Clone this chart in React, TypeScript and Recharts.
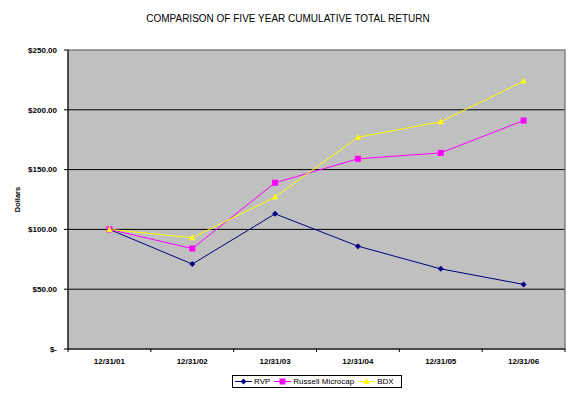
import { LineChart, Line, XAxis, YAxis, CartesianGrid, ReferenceArea } from 'recharts';

const categories = ['12/31/01', '12/31/02', '12/31/03', '12/31/04', '12/31/05', '12/31/06'];
const rvp = [100, 71, 113, 86, 67, 54];
const russell = [100, 84, 139, 159, 164, 191];
const bdx = [100, 93, 127, 177, 190, 224];
const yTicks = [0, 50, 100, 150, 200, 250];

const FONT = '"Liberation Sans", Arial, sans-serif';

const data = categories.map((date, i) => ({ date, rvp: rvp[i], russell: russell[i], bdx: bdx[i] }));

type Shape = 'diamond' | 'square' | 'triangle';

const series: Array<{ key: string; name: string; color: string; shape: Shape }> = [
  { key: 'rvp', name: 'RVP', color: '#000080', shape: 'diamond' },
  { key: 'russell', name: 'Russell Microcap', color: '#FF00FF', shape: 'square' },
  { key: 'bdx', name: 'BDX', color: '#FFFF00', shape: 'triangle' },
];

function Marker({ cx, cy, shape, color }: { cx: number; cy: number; shape: Shape; color: string }) {
  if (cx == null || cy == null) return null;
  if (shape === 'diamond') {
    return <path d={`M${cx},${cy - 3}L${cx + 3},${cy}L${cx},${cy + 3}L${cx - 3},${cy}Z`} fill={color} />;
  }
  if (shape === 'square') {
    return <rect x={cx - 3} y={cy - 3} width={6} height={6} fill={color} />;
  }
  return <path d={`M${cx},${cy - 3.5}L${cx + 3},${cy + 2.5}L${cx - 3},${cy + 2.5}Z`} fill={color} />;
}

function XTick(props: any) {
  const { x, y, payload, index } = props;
  const half = payload && payload.offset ? payload.offset : 41.4;
  const last = index === categories.length - 1;
  return (
    <g>
      <line x1={x - half} y1={y} x2={x - half} y2={y + 3} stroke="#000" />
      {last && <line x1={x + half} y1={y} x2={x + half} y2={y + 3} stroke="#000" />}
      <text x={x} y={y + 15} textAnchor="middle" fontSize={8} fontWeight="bold" fontFamily={FONT} fill="#000">
        {payload.value}
      </text>
    </g>
  );
}

function DollarsLabel(props: any) {
  const vb = props.viewBox || { x: 0, y: 50, width: 68, height: 299 };
  const cx = vb.x + 17;
  const cy = vb.y + vb.height / 2;
  return (
    <text
      x={cx}
      y={cy}
      transform={`rotate(-90 ${cx} ${cy})`}
      textAnchor="middle"
      dominantBaseline="central"
      fontSize={7.5}
      fontWeight="bold"
      fontFamily={FONT}
      fill="#000"
    >
      Dollars
    </text>
  );
}

export default function App() {
  return (
    <div style={{ position: 'absolute', left: 0, top: 0, width: 576, height: 394, background: '#fff', fontFamily: FONT }}>
      <div
        style={{
          position: 'absolute',
          left: 0,
          width: 576,
          top: 13,
          textAlign: 'center',
          fontSize: 10,
          color: '#000',
          paddingLeft: 0,
        }}
      >
        <span style={{ position: 'relative', left: 0 }}>COMPARISON OF FIVE YEAR CUMULATIVE TOTAL RETURN</span>
      </div>
      <LineChart width={576} height={394} data={data} margin={{ top: 50, right: 11, bottom: 0, left: 0 }}>
        <CartesianGrid fill="#C0C0C0" vertical={false} horizontalValues={[50, 100, 150, 200]} stroke="#000" strokeOpacity={1} />
        <ReferenceArea y1={0} y2={250} fill="none" stroke="#808080" strokeWidth={1.5} ifOverflow="visible" />
        <XAxis
          dataKey="date"
          scale="band"
          interval={0}
          height={45}
          tickLine={false}
          tickSize={0}
          tickMargin={0}
          axisLine={{ stroke: '#000' }}
          tick={<XTick />}
        />
        <YAxis
          width={68}
          domain={[0, 250]}
          ticks={yTicks}
          interval={0}
          tickSize={4}
          tickMargin={7}
          axisLine={{ stroke: '#000' }}
          tickLine={{ stroke: '#000' }}
          tick={{ fontSize: 8, fontWeight: 'bold', fontFamily: FONT, fill: '#000' }}
          tickFormatter={(v: number) => (v === 0 ? '$-' : `$${v.toFixed(2)}`)}
          label={<DollarsLabel />}
        />
        {series.map((s) => (
          <Line
            key={s.key}
            dataKey={s.key}
            name={s.name}
            stroke={s.color}
            strokeWidth={1}
            isAnimationActive={false}
            dot={(p: any) => <Marker key={`${s.key}-${p.index}`} cx={p.cx} cy={p.cy} shape={s.shape} color={s.color} />}
            activeDot={false}
          />
        ))}
      </LineChart>
      <div
        style={{
          position: 'absolute',
          left: 232,
          top: 375,
          width: 168,
          height: 11,
          border: '1px solid #000',
          background: '#fff',
          display: 'flex',
          alignItems: 'center',
          fontSize: 8,
          color: '#000',
          boxSizing: 'content-box',
        }}
      >
        {series.map((s, i) => (
          <div key={s.key} style={{ display: 'flex', alignItems: 'center', marginLeft: i === 0 ? 2 : 4 }}>
            <svg width={17} height={11}>
              <line x1={0} y1={5.5} x2={17} y2={5.5} stroke={s.color} strokeWidth={1} />
              <Marker cx={8.5} cy={5.5} shape={s.shape} color={s.color} />
            </svg>
            <span style={{ marginLeft: 2, lineHeight: '11px' }}>{s.name}</span>
          </div>
        ))}
      </div>
    </div>
  );
}
